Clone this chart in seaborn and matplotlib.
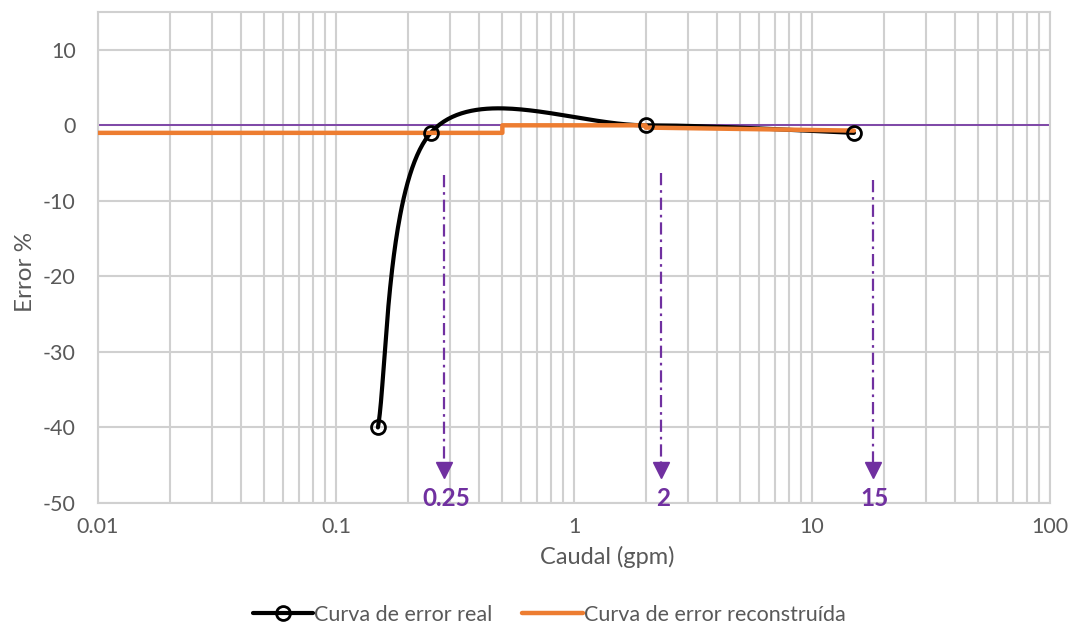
import numpy as np
import matplotlib
matplotlib.use("Agg")
import matplotlib.pyplot as plt
from matplotlib.lines import Line2D
from matplotlib.ticker import FixedLocator, LogLocator, NullFormatter
import seaborn as sns
import pandas as pd

# Measured error curve
caudal_real = [0.15, 0.25, 2, 15]
error_real = [-40, -1, 0, -1]

# Reconstructed (piecewise) error curve
caudal_rec = [0.01, 0.5, 0.5, 2, 2, 15]
error_rec = [-1, -1, 0, 0, -0.3, -0.7]

# Reference flow rates marked with arrows
caudal_marca = [0.285, 2.32, 18]
texto_marca = ["0.25", "2", "15"]

x_ticks = [0.01, 0.1, 1, 10, 100]
x_labels = ["0.01", "0.1", "1", "10", "100"]
y_ticks = [-50, -40, -30, -20, -10, 0, 10]

sns.set_theme(style="white")
plt.rcParams["font.family"] = ["Lato", "DejaVu Sans"]
plt.rcParams["axes.unicode_minus"] = False

GRID = "#d0d0d0"
TXT = "#595959"
PURPLE = "#7030A0"
ORANGE = "#ED7D31"

fig = plt.figure(figsize=(10.74, 6.30), dpi=100)
ax = fig.add_axes([98 / 1074, 1 - 503 / 630, (1050 - 98) / 1074, (503 - 12) / 630])
ax.set_xscale("log")
ax.set_xlim(0.01, 100)
ax.set_ylim(-50, 15)

# grid
ax.xaxis.set_major_locator(FixedLocator(x_ticks))
ax.xaxis.set_minor_locator(LogLocator(base=10, subs=np.arange(2, 10)))
ax.xaxis.set_minor_formatter(NullFormatter())
ax.set_xticklabels(x_labels)
ax.set_yticks(y_ticks)
ax.set_yticklabels([str(v) for v in y_ticks])
ax.grid(True, which="major", axis="both", color=GRID, lw=1.5, zorder=0)
ax.grid(True, which="minor", axis="x", color=GRID, lw=1.5, zorder=0)
for s in ax.spines.values():
    s.set_color(GRID)
    s.set_linewidth(1.5)
ax.tick_params(axis="both", which="both", length=0, labelsize=15.5, labelcolor=TXT)
ax.tick_params(axis="y", pad=16)
ax.tick_params(axis="x", pad=10)
ax.set_axisbelow(True)

# zero reference line
ax.axhline(0, color=PURPLE, lw=1.2, zorder=2)

# smoothed measured curve (cardinal Bezier in display space)
P = ax.transData.transform(np.column_stack([caudal_real, error_real]))
pts = []
n = len(P)
for i in range(n - 1):
    p0 = P[max(i - 1, 0)]
    p1 = P[i]
    p2 = P[i + 1]
    p3 = P[min(i + 2, n - 1)]
    c1 = p1 + (p2 - p0) / 6
    c2 = p2 - (p3 - p1) / 6
    t = np.linspace(0, 1, 80)[:, None]
    seg = (1 - t) ** 3 * p1 + 3 * (1 - t) ** 2 * t * c1 + 3 * (1 - t) * t ** 2 * c2 + t ** 3 * p2
    pts.append(seg)
curve = ax.transData.inverted().transform(np.vstack(pts))
ax.plot(curve[:, 0], curve[:, 1], color="black", lw=3.0, zorder=3, solid_capstyle="round")

# reconstructed curve
df_rec = pd.DataFrame({"caudal": caudal_rec, "error": error_rec})
sns.lineplot(data=df_rec, x="caudal", y="error", sort=False, estimator=None,
             color=ORANGE, lw=3.2, ax=ax, zorder=4)

# measured points
df_real = pd.DataFrame({"caudal": caudal_real, "error": error_real})
ax.plot(df_real["caudal"], df_real["error"], ls="none", marker="o", ms=10,
        mfc="none", mec="black", mew=2.0, zorder=5)

# arrows pointing to the reference flow rates
for xm, lab, y0 in zip(caudal_marca, texto_marca, [-6.6, -6.3, -7.3]):
    ax.plot([xm, xm], [y0, -45.5], color=PURPLE, lw=1.6,
            dashes=(5.5, 2.2, 1.2, 2.2), zorder=6)
    ax.plot([xm], [-45.6], marker="v", ms=11, color=PURPLE, mec=PURPLE, zorder=6)
    ax.text(xm * 1.02, -49.4, lab, color=PURPLE, fontsize=17.5, fontweight="bold",
            ha="center", va="center", zorder=7)

ax.set_xlabel("")
ax.set_ylabel("")
fig.text(607 / 1074, 1 - 557 / 630, "Caudal (gpm)", ha="center", va="center",
         fontsize=17, color=TXT)
fig.text(25 / 1074, 1 - 272 / 630, "Error %", ha="center", va="center",
         rotation=90, fontsize=17.5, color=TXT)

handles = [
    Line2D([0], [0], color="black", lw=3.0, marker="o", ms=10, mfc="none", mec="black", mew=2.0),
    Line2D([0], [0], color=ORANGE, lw=3.2),
]
leg = fig.legend(handles, ["Curva de error real", "Curva de error reconstruída"],
                 loc="center", bbox_to_anchor=(549 / 1074, 1 - 615 / 630), ncol=2,
                 frameon=False, fontsize=15.5, handlelength=2.8, columnspacing=1.4,
                 handletextpad=0.05)
for t in leg.get_texts():
    t.set_color(TXT)

fig.savefig("out.png", dpi=100)
